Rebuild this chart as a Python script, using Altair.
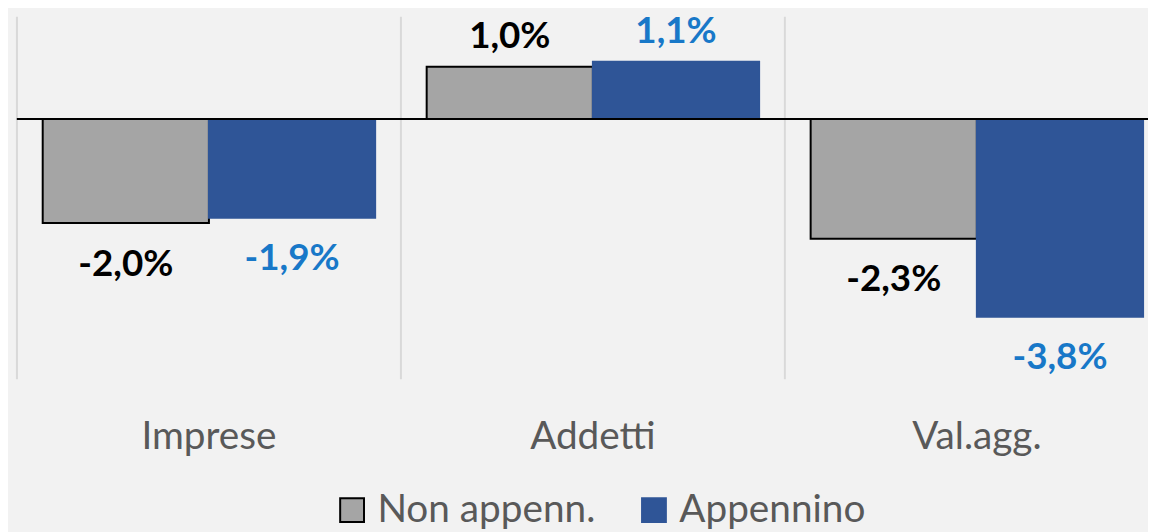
import altair as alt
import pandas as pd

categories = ["Imprese", "Addetti", "Val.agg."]
series = ["Non appenn.", "Appennino"]
non_appenn = [-2.0, 1.0, -2.3]
appennino = [-1.9, 1.1, -3.8]
label_colors = ["#000000", "#1878c8"]

rows = []
for i, c in enumerate(categories):
    for s, vals, tc in zip(series, [non_appenn, appennino], label_colors):
        v = vals[i]
        rows.append({"cat": c, "series": s, "value": v, "zero": 0.0, "tcolor": tc,
                     "label": f"{v:.1f}".replace(".", ",") + "%"})
df = pd.DataFrame(rows)
cats_df = pd.DataFrame({"cat": categories, "zero": [0.0] * len(categories)})

FILL = ["#a5a5a5", "#2f5597"]
STROKE = ["#000000", "#2f5597"]
PLOT_H = 367

xscale = alt.Scale(domain=categories, paddingInner=0, paddingOuter=0)
yscale = alt.Scale(domain=[-5, 2], nice=False, zero=False)
offscale = alt.Scale(domain=series, paddingInner=0, paddingOuter=0.155)
xaxis = alt.Axis(title=None, domain=False, ticks=False, grid=False, labelAngle=0,
                 labelFont="Lato", labelFontSize=39, labelColor="#595959",
                 labelPadding=39, labelBaseline="top")

def X(**kw):
    return alt.X("cat:N", scale=xscale, sort=categories, axis=xaxis, **kw)

grid = alt.Chart(cats_df).mark_rule(color="#d9d9d9", strokeWidth=2).encode(
    x=X(bandPosition=0),
    y=alt.value(2),
    y2=alt.value(PLOT_H),
)

bars = alt.Chart(df).mark_bar(strokeWidth=2).encode(
    x=X(),
    xOffset=alt.XOffset("series:N", scale=offscale, sort=series),
    y=alt.Y("value:Q", scale=yscale, axis=None),
    y2=alt.Y2("zero:Q"),
    fill=alt.Fill("series:N", scale=alt.Scale(domain=series, range=FILL),
                  legend=alt.Legend(title=None)),
    stroke=alt.Stroke("series:N", scale=alt.Scale(domain=series, range=STROKE),
                      legend=alt.Legend(title=None)),
)

zero = alt.Chart(cats_df).mark_rule(color="black", strokeWidth=2).encode(
    y=alt.Y("zero:Q", scale=yscale, axis=None),
    x=alt.value(0),
    x2=alt.value(1160),
)

def label_layer(flt, dy):
    return alt.Chart(df).transform_filter(flt).mark_text(
        font="Lato", fontSize=37, fontWeight="bold", baseline="alphabetic", dy=dy
    ).encode(
        x=X(),
        xOffset=alt.XOffset("series:N", scale=offscale, sort=series),
        y=alt.Y("value:Q", scale=yscale, axis=None),
        text=alt.Text("label:N"),
        color=alt.Color("tcolor:N", scale=None, legend=None),
    )

pos_txt = label_layer("datum.value >= 0", -19)
neg_txt = label_layer("datum.value < 0", 53)

chart = alt.layer(grid, bars, zero, pos_txt, neg_txt).properties(
    width=1160,
    height=PLOT_H,
    autosize=alt.AutoSizeParams(type="none"),
    padding={"left": 9, "top": 5, "right": -21, "bottom": 152},
    background="#f2f2f2",
).configure_view(stroke=None).configure_legend(
    orient="none", legendX=318, legendY=479, direction="horizontal",
    labelFont="Lato", labelFontSize=39, labelColor="#595959", labelLimit=500,
    symbolType="square", symbolSize=576, symbolStrokeWidth=2,
    columnPadding=39, labelOffset=6,
)

chart.save("out.html", embed_options={"renderer": "svg", "actions": False})
